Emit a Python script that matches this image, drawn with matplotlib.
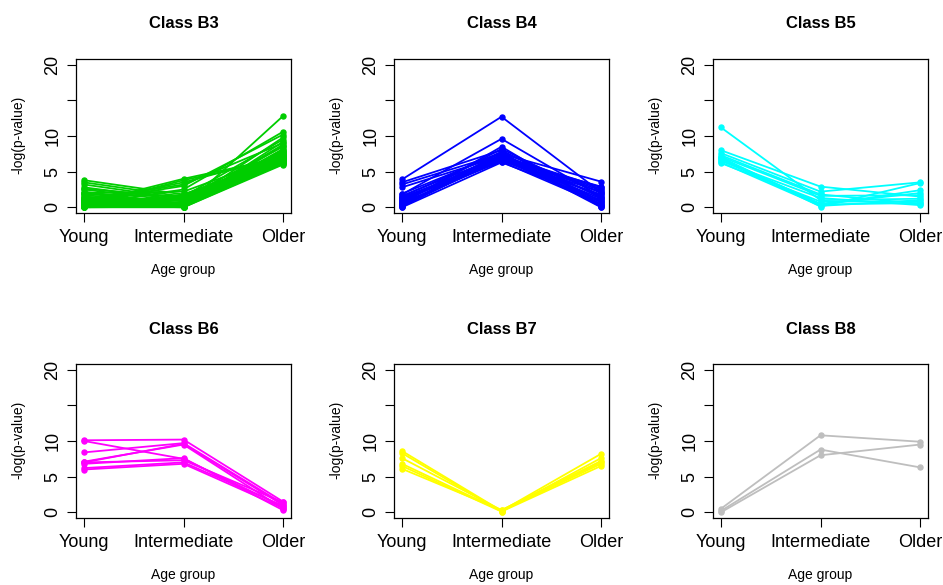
import matplotlib
matplotlib.use("Agg")
import matplotlib.pyplot as plt

plt.rcParams['font.family'] = ['Liberation Sans', 'DejaVu Sans']

groups = ['Young', 'Intermediate', 'Older']
titles = ['Class B3', 'Class B4', 'Class B5', 'Class B6', 'Class B7', 'Class B8']
colors = ['#00CD00', '#0000FF', '#00FFFF', '#FF00FF', '#FFFF00', '#BEBEBE']

# each row: -log(p) for Young, Intermediate, Older
b3 = [
    [3.8, 1.8, 7.0], [3.5, 1.5, 6.8], [3.2, 1.2, 7.5], [2.8, 1.0, 6.5],
    [2.5, 0.8, 8.0], [2.2, 0.5, 6.3], [2.0, 0.3, 7.2], [1.8, 1.6, 6.6],
    [1.5, 0.2, 6.1], [1.3, 0.9, 7.8], [1.1, 0.4, 6.4], [1.0, 0.1, 6.9],
    [0.9, 1.3, 8.5], [0.8, 0.6, 7.0], [0.7, 0.0, 6.2], [0.6, 0.2, 7.4],
    [0.5, 1.1, 6.7], [0.4, 0.3, 8.2], [0.3, 0.0, 6.0], [0.2, 0.7, 7.6],
    [0.1, 0.1, 6.5], [0.0, 0.0, 7.1], [0.5, 4.0, 7.0], [0.2, 3.8, 6.8],
    [1.0, 3.2, 9.0], [0.0, 0.1, 12.8], [0.4, 2.5, 10.6], [0.8, 3.0, 10.2],
    [0.2, 1.5, 9.5], [1.5, 0.5, 9.8], [0.6, 0.2, 9.2], [2.0, 2.2, 7.3],
    [0.3, 0.5, 8.8], [1.2, 0.0, 7.9], [0.1, 1.8, 6.4], [0.7, 3.5, 7.2],
    [0.0, 0.4, 8.6], [2.6, 1.4, 6.2], [1.7, 0.6, 7.7], [0.9, 0.2, 6.6],
]
b4 = [
    [3.9, 12.7, 2.1], [1.8, 9.6, 1.5], [0.5, 8.5, 0.2], [3.5, 8.0, 0.8],
    [3.2, 7.5, 3.6], [2.8, 7.2, 2.8], [1.5, 7.8, 2.0], [1.2, 7.0, 1.2],
    [1.0, 6.8, 0.5], [0.8, 7.3, 0.0], [0.6, 6.5, 1.8], [0.4, 7.1, 0.3],
    [0.2, 6.9, 2.4], [0.0, 6.3, 1.0], [1.9, 7.6, 0.1], [1.4, 6.6, 2.2],
    [0.9, 7.4, 1.5], [0.3, 6.7, 0.7], [0.1, 7.0, 2.6], [1.1, 6.4, 0.4],
    [0.7, 8.2, 1.3], [1.6, 7.2, 0.9], [0.5, 6.8, 2.9], [0.2, 7.7, 0.2],
    [1.3, 6.9, 1.7],
]
b5 = [
    [11.2, 1.0, 1.2], [8.0, 2.9, 1.5], [7.6, 2.2, 3.5], [7.3, 1.8, 0.5],
    [7.0, 0.3, 2.4], [6.8, 0.5, 2.0], [6.5, 1.3, 0.3], [6.3, 0.2, 1.0],
    [6.2, 0.8, 0.8], [6.9, 0.1, 3.4], [7.1, 1.6, 1.7], [6.6, 0.4, 0.6],
]
b6 = [
    [10.1, 10.2, 1.5], [10.0, 7.5, 0.8], [8.4, 9.7, 1.2], [7.1, 9.5, 0.5],
    [7.0, 9.6, 1.0], [6.8, 7.6, 0.3], [6.2, 7.0, 0.9], [6.0, 6.8, 0.6],
    [7.0, 7.3, 1.4],
]
b7 = [
    [8.6, 0.2, 8.2], [8.3, 0.1, 7.6], [7.6, 0.3, 7.0], [6.8, 0.2, 6.8],
    [6.5, 0.1, 6.5], [6.1, 0.3, 7.2],
]
b8 = [
    [0.5, 10.8, 9.9], [0.2, 8.8, 6.3], [0.0, 8.0, 9.5],
]
classes = [b3, b4, b5, b6, b7, b8]

W, H = 943, 585
fig = plt.figure(figsize=(W / 100, H / 100), dpi=100)

lefts = [76, 394, 713]
tops = [59, 364]
pw, ph = 215, 154

for k, data in enumerate(classes):
    r, c = divmod(k, 3)
    l, t = lefts[c], tops[r]
    ax = fig.add_axes([l / W, 1 - (t + ph) / H, pw / W, ph / H])
    for row in data:
        ax.plot([1, 2, 3], row, '-o', color=colors[k], lw=1.3, ms=3.6)
    ax.set_xlim(0.92, 3.08)
    ax.set_ylim(-0.8, 20.8)
    ax.set_xticks([1, 2, 3], groups)
    ax.set_yticks([0, 5, 10, 15, 20], ['0', '5', '10', '', '20'])
    for lab in ax.get_yticklabels():
        lab.set_rotation(90)
        lab.set_va('center')
    ax.tick_params(length=6.5, width=0.8, labelsize=13, pad=5)
    ax.tick_params(axis='y', pad=4)
    for s in ax.spines.values():
        s.set_linewidth(0.9)
    cx = (l + pw / 2) / W
    fig.text(cx, 1 - (t - 35) / H, titles[k], ha='center', va='center',
             fontsize=12, fontweight='bold')
    fig.text(cx, 1 - (t + 211) / H, 'Age group', ha='center', va='center',
             fontsize=10)
    fig.text((l - 58) / W, 1 - (t + 76) / H, '-log(p-value)', ha='center',
             va='center', rotation=90, fontsize=10)

fig.savefig('out.png', dpi=100)
